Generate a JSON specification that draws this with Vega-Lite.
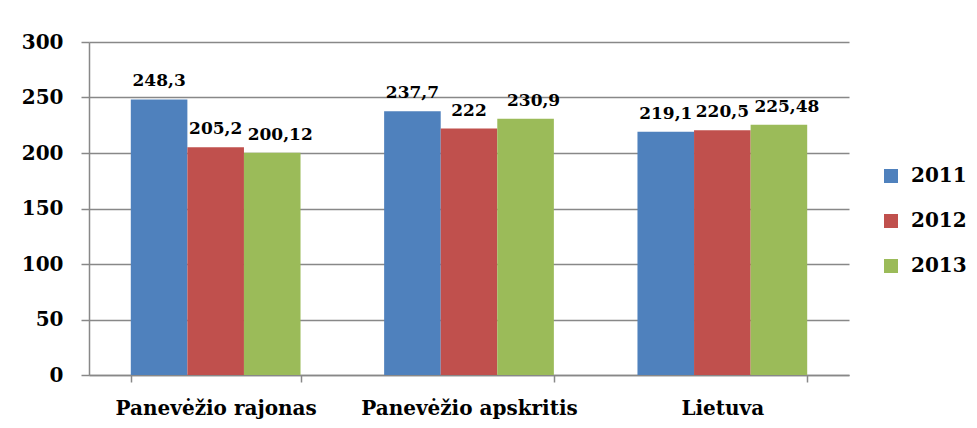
{
  "$schema": "https://vega.github.io/schema/vega-lite/v6.json",
  "width": 760,
  "height": 333,
  "autosize": {"type": "none"},
  "padding": {"left": 89, "top": 42, "right": 128, "bottom": 53},
  "background": "white",
  "config": {
    "view": {"stroke": null},
    "font": "DejaVu Serif",
    "axis": {"labelFont": "DejaVu Serif", "labelFontWeight": "bold", "labelFontSize": 20, "labelColor": "black", "labelLimit": 0, "domainColor": "#888888", "tickColor": "#888888", "gridColor": "#888888", "domainWidth": 1.5, "tickWidth": 1.5, "gridWidth": 1.5}
  },
  "data": {
    "values": [
      {"region": "Panevėžio rajonas", "year": "2011", "value": 248.3, "label": "248,3"},
      {"region": "Panevėžio rajonas", "year": "2012", "value": 205.2, "label": "205,2"},
      {"region": "Panevėžio rajonas", "year": "2013", "value": 200.12, "label": "200,12"},
      {"region": "Panevėžio apskritis", "year": "2011", "value": 237.7, "label": "237,7"},
      {"region": "Panevėžio apskritis", "year": "2012", "value": 222, "label": "222"},
      {"region": "Panevėžio apskritis", "year": "2013", "value": 230.9, "label": "230,9"},
      {"region": "Lietuva", "year": "2011", "value": 219.1, "label": "219,1"},
      {"region": "Lietuva", "year": "2012", "value": 220.5, "label": "220,5"},
      {"region": "Lietuva", "year": "2013", "value": 225.48, "label": "225,48"}
    ]
  },
  "encoding": {
    "x": {"field": "region", "type": "nominal", "sort": null,
      "scale": {"paddingInner": 0.33, "paddingOuter": 0.165},
      "axis": {"title": null, "labelAngle": 0, "labelPadding": 16, "tickSize": 7, "tickBand": "extent", "grid": false}},
    "xOffset": {"field": "year", "type": "nominal", "scale": {"domain": ["2011", "2012", "2013"]}},
    "y": {"field": "value", "type": "quantitative",
      "scale": {"domain": [0, 300], "nice": false},
      "axis": {"title": null, "values": [0, 50, 100, 150, 200, 250, 300], "tickSize": 8, "labelPadding": 18, "grid": true}}
  },
  "layer": [
    {
      "mark": {"type": "bar"},
      "encoding": {
        "color": {"field": "year", "type": "nominal",
          "scale": {"domain": ["2011", "2012", "2013"], "range": ["#4F81BD", "#C0504D", "#9BBB59"]},
          "legend": {"title": null, "orient": "none", "legendX": 792, "legendY": 124, "symbolType": "square", "symbolSize": 196, "symbolStrokeWidth": 0, "rowPadding": 25, "labelFontSize": 20, "labelFontWeight": "bold", "labelFont": "DejaVu Serif", "labelColor": "black", "labelOffset": 10}}
      }
    },
    {
      "transform": [{"filter": "datum.year !== '2013'"}],
      "mark": {"type": "text", "baseline": "alphabetic", "dy": -13, "fontSize": 17, "fontWeight": "bold", "font": "DejaVu Serif", "color": "black"},
      "encoding": {"text": {"field": "label"}}
    },
    {
      "transform": [{"filter": "datum.year === '2013'"}],
      "mark": {"type": "text", "baseline": "alphabetic", "dy": -13, "dx": 8, "fontSize": 17, "fontWeight": "bold", "font": "DejaVu Serif", "color": "black"},
      "encoding": {"text": {"field": "label"}}
    }
  ]
}
